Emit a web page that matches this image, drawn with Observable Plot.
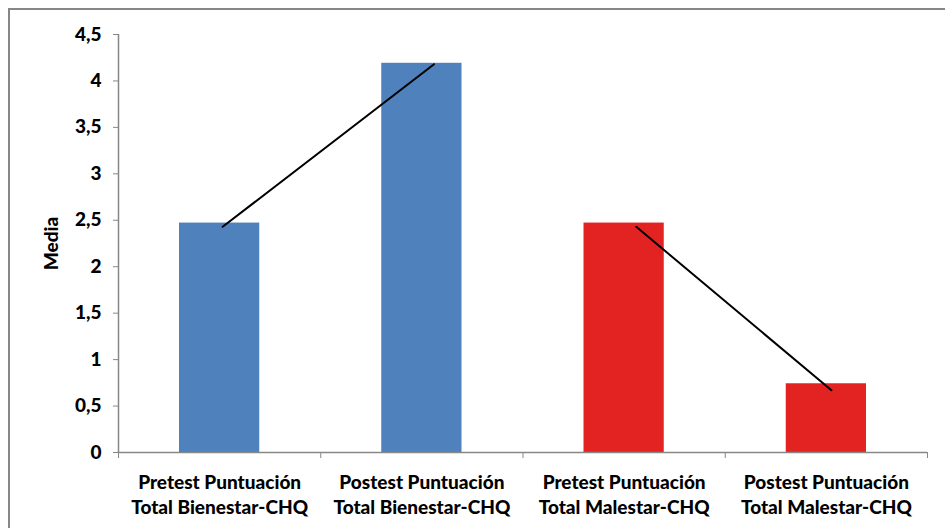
<!DOCTYPE html>
<html>
<head>
<meta charset="utf-8">
<script src="https://cdn.jsdelivr.net/npm/d3@7"></script>
<script src="https://cdn.jsdelivr.net/npm/@observablehq/plot@0.6"></script>
<style>
  html, body { margin: 0; padding: 0; background: #fff; }
  #wrap { position: relative; width: 945px; height: 528px; overflow: hidden; }
  #frame { position: absolute; left: 8px; top: 8px; width: 960px; height: 540px;
           border-left: 2px solid #878787; border-top: 2px solid #878787; box-sizing: border-box; pointer-events: none; }
  #chart { position: absolute; left: 0; top: 0; }
</style>
</head>
<body>
<div id="wrap"><div id="chart"></div><div id="frame"></div></div>
<script>
// Categories (two-line labels)
const categories = [
  "Pretest Puntuación\nTotal Bienestar-CHQ",
  "Postest Puntuación\nTotal Bienestar-CHQ",
  "Pretest Puntuación\nTotal Malestar-CHQ",
  "Postest Puntuación\nTotal Malestar-CHQ"
];
// Bar means
const means = [2.47, 4.19, 2.47, 0.74];
const barColors = ["#4F81BD", "#4F81BD", "#E32322", "#E32322"];
// Connecting trend lines (hand drawn): position along category axis and value
const lineGroup = ["Bienestar", "Bienestar", "Malestar", "Malestar"];
const linePos = [0.515, 1.56, 2.56, 3.525];
const lineVal = [2.43, 4.18, 2.43, 0.67];
// Y ticks
const yTicks = [0, 0.5, 1, 1.5, 2, 2.5, 3, 3.5, 4, 4.5];
const yTitle = "Media";

const bars = categories.map((c, i) => ({i, c, v: means[i], col: barColors[i]}));
const lines = linePos.map((p, i) => ({g: lineGroup[i], x: p, y: lineVal[i]}));
const fmt = d => String(d).replace(".", ",");
const FONT = "Lato, 'Open Sans', sans-serif";

const plot = Plot.plot({
  width: 945,
  height: 528,
  marginLeft: 118,
  marginRight: 18,
  marginTop: 34,
  marginBottom: 76,
  style: {fontFamily: FONT, fontWeight: "900", color: "#000", background: "transparent"},
  x: {domain: [0, 4], axis: null},
  y: {domain: [0, 4.5], axis: null},
  marks: [
    Plot.rectY(bars, {x1: d => d.i, x2: d => d.i + 1, y: "v", fill: "col", insetLeft: 61, insetRight: 61}),
    Plot.line(lines, {x: "x", y: "y", z: "g", stroke: "#000", strokeWidth: 2}),
    // axis lines
    Plot.ruleX([0], {stroke: "#878787", strokeWidth: 1.5}),
    Plot.ruleY([0], {stroke: "#878787", strokeWidth: 1.5}),
    Plot.axisY({ticks: yTicks, tickFormat: fmt, tickSize: 5, tickPadding: 12, stroke: "#878787", fontSize: 19, fontWeight: "900", fill: "#000", label: null}),
    Plot.axisX({ticks: [0, 1, 2, 3, 4], tickSize: 6, tickFormat: () => "", stroke: "#878787", label: null}),
    Plot.text(bars, {x: d => d.i + 0.5, y: 0, text: "c", lineAnchor: "top", dy: 19, fontSize: 19, lineHeight: 1.32, fontWeight: "900", fill: "#000"}),
    Plot.text([yTitle], {frameAnchor: "left", dx: -67, rotate: -90, textAnchor: "middle", fontSize: 19, fontWeight: "900", fill: "#000"})
  ]
});
document.getElementById("chart").appendChild(plot);
</script>
</body>
</html>
